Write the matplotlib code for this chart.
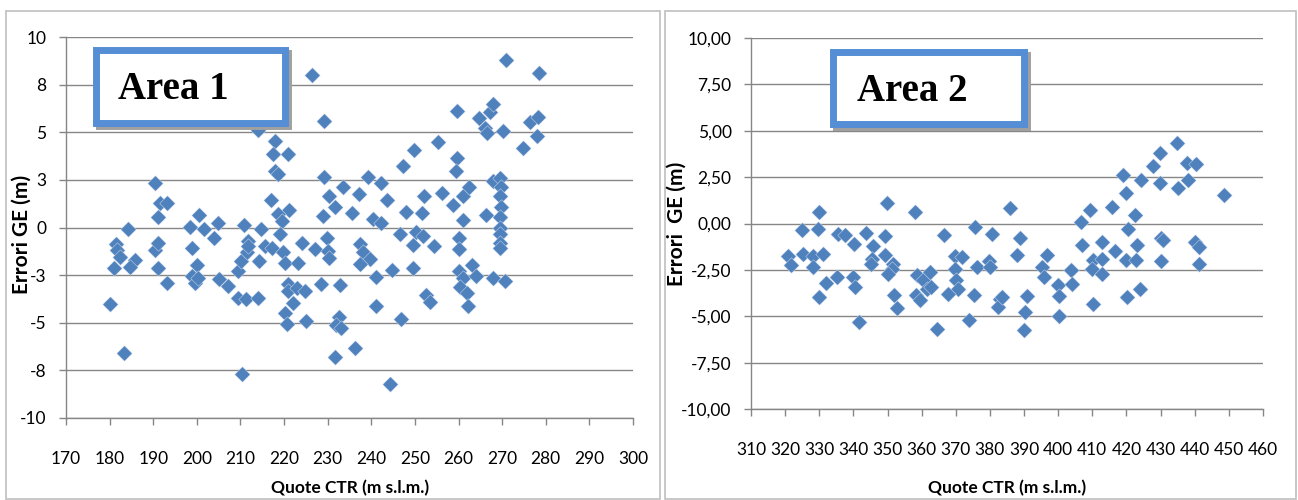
import matplotlib.pyplot as plt
from matplotlib.patches import Rectangle

plt.rcParams['font.family'] = ['Lato', 'DejaVu Sans']

# Area 1 : quote CTR vs errori GE
area1_x = [226.3, 214.1, 217.9, 217.4, 220.8, 217.9, 218.5, 190.4, 191.6, 193.1,
           191.0, 216.9, 221.1, 218.5, 219.5, 219.1, 184.3, 200.5, 198.4, 201.7,
           204.8, 204.0, 210.8, 214.6, 211.7, 181.4, 181.8, 182.4, 180.9, 185.8,
           184.7, 190.3, 191.2, 191.0, 193.1, 199.0, 200.0, 198.8, 199.6, 200.3,
           205.1, 207.2, 209.5, 210.1, 211.4, 211.8, 209.5, 211.2, 214.1, 214.3,
           215.6, 217.2, 219.8, 220.1, 223.3, 224.1, 227.0, 220.8, 221.0, 222.9,
           224.8, 222.1, 220.2, 220.6, 225.0, 228.4, 180.2, 183.2, 210.3,
           270.8, 278.5, 229.2, 259.6, 264.6, 266.0, 267.1, 267.9, 270.3, 266.5,
           276.3, 278.3, 278.0, 274.7, 255.2, 249.9, 247.2, 259.6, 259.5, 229.2,
           239.3, 242.2, 243.6, 233.6, 237.2, 230.4, 231.7, 228.9, 235.5, 240.3,
           242.3, 248.0, 252.1, 251.7, 256.2, 258.8, 261.0, 262.3, 261.0, 266.3,
           268.0, 269.4, 269.7, 269.5, 269.7, 269.5, 269.5, 269.5, 269.5, 269.5,
           229.8, 230.0, 230.2, 246.6, 250.3, 251.8, 249.5, 254.4, 260.2, 260.2,
           237.3, 238.2, 239.7, 237.4, 241.1, 244.7, 249.5, 232.8, 260.2, 261.1,
           263.0, 264.0, 268.0, 270.7, 260.4, 261.9, 262.1, 252.6, 253.5, 241.1,
           246.8, 232.5, 231.9, 233.0, 236.3, 231.7, 244.3]
area1_y = [8.0, 5.1, 4.55, 3.85, 3.85, 2.98, 2.8, 2.31, 1.31, 1.31,
           0.53, 1.44, 0.91, 0.7, 0.35, -0.32, -0.09, 0.67, 0.04, -0.09,
           0.26, -0.53, 0.14, -0.09, -0.7, -0.84, -1.19, -1.54, -2.1, -1.72,
           -2.07, -1.19, -0.79, -2.1, -2.89, -1.05, -1.96, -2.54, -2.89, -2.63,
           -2.71, -3.06, -2.28, -1.75, -1.31, -0.96, -3.68, -3.77, -3.68, -1.75,
           -0.96, -1.05, -1.31, -1.84, -1.84, -0.79, -1.14, -2.98, -3.33, -3.15,
           -3.33, -3.94, -4.47, -5.08, -4.9, -2.98, -3.99, -6.57, -7.71,
           8.81, 8.09, 5.57, 6.13, 5.74, 5.22, 6.04, 6.48, 5.08, 4.94,
           5.55, 5.81, 4.78, 4.17, 4.47, 4.06, 3.24, 3.64, 2.94, 2.63,
           2.63, 2.31, 1.45, 2.15, 1.75, 1.66, 1.1, 0.61, 0.75, 0.44,
           0.21, 0.79, 1.66, 0.74, 1.79, 1.19, 1.66, 2.1, 0.4, 0.65,
           2.45, 2.59, 2.1, 1.66, 1.09, 0.53, 0.0, -0.32, -0.79, -1.09,
           -0.53, -1.23, -1.58, -0.32, -0.26, -0.44, -0.91, -0.96, -0.53, -1.14,
           -0.88, -1.31, -1.66, -1.89, -2.59, -2.24, -2.1, -3.03, -2.28, -2.66,
           -1.96, -2.54, -2.66, -2.8, -3.12, -3.42, -4.12, -3.54, -3.89, -4.12,
           -4.82, -4.69, -5.11, -5.29, -6.3, -6.8, -8.23]

# Area 2
area2_x = [320.9, 321.6, 325.3, 324.9, 328.1, 328.3, 330.0, 329.5, 331.0, 332.0,
           330.0, 335.3, 335.6, 337.5, 340.2, 340.0, 340.5, 341.7, 343.7, 345.8,
           345.4, 345.1, 349.3, 349.3, 349.9, 351.7, 351.2, 350.2, 351.9, 352.7,
           358.0, 358.5, 360.3, 358.3, 359.5, 361.5, 362.5, 362.6, 364.4, 366.4,
           369.8, 371.7, 369.8, 370.1, 370.5, 367.8, 375.6, 376.3, 375.3, 374.0,
           380.5, 379.8, 380.0, 383.0, 382.3,
           385.9, 388.8, 387.8, 396.6, 395.2, 395.7, 383.4, 390.8, 390.3, 390.1,
           399.9, 400.2, 400.2, 403.8, 404.1, 406.7, 409.3, 407.1, 410.3, 409.8,
           412.7, 412.7, 412.9, 410.3, 415.9, 416.5, 419.1, 419.8, 420.4, 419.8,
           420.1, 422.5, 423.0, 422.7, 424.0, 424.3, 427.9, 429.8, 429.8, 430.1,
           430.8, 430.1, 434.7, 435.0, 437.6, 440.3, 437.9, 440.1, 441.3, 441.3,
           448.7]
area2_y = [-1.76, -2.25, -1.65, -0.36, -1.76, -2.37, 0.63, -0.27, -1.62, -3.2,
           -3.96, -2.91, -0.58, -0.63, -1.12, -2.88, -3.45, -5.31, -0.5, -1.22,
           -1.89, -2.16, -0.68, -1.71, 1.13, -2.16, -2.43, -2.73, -3.87, -4.55,
           0.63, -2.79, -3.06, -3.87, -4.14, -3.51, -2.61, -3.45, -5.67, -0.63,
           -1.76, -1.83, -2.43, -3.06, -3.51, -3.81, -0.18, -2.37, -3.87, -5.22,
           -0.58, -2.01, -2.34, -4.05, -4.5,
           0.81, -0.76, -1.71, -1.71, -2.34, -2.88, -3.96, -3.92, -4.77, -5.72,
           -3.33, -3.92, -5.0, -2.48, -3.24, 0.09, 0.72, -1.17, -1.98, -2.43,
           -0.99, -1.94, -2.7, -4.32, 0.9, -1.47, 2.61, 1.65, -0.32, -1.98,
           -3.96, 0.45, -1.17, -1.98, -3.51, 2.37, 3.09, 3.81, 2.19, -0.76,
           -0.9, -2.01, 4.35, 1.89, 3.24, 3.2, 2.34, -0.99, -1.29, -2.19,
           1.53]

area1_xticks = list(range(170, 301, 10))
area2_xticks = list(range(310, 461, 10))
yticks = [-10, -7.5, -5, -2.5, 0, 2.5, 5, 7.5, 10]
area1_ylabels = ["-10", "-8", "-5", "-3", "0", "3", "5", "8", "10"]
area2_ylabels = ["-10,00", "-7,50", "-5,00", "-2,50", "0,00", "2,50", "5,00", "7,50", "10,00"]

W, H = 1298, 500
grey = '#868686'
blue = '#4F81BD'

def fx(px):
    return px / W

def fy(py):
    return 1 - py / H

fig = plt.figure(figsize=(W / 100, H / 100), dpi=100)

# panel frames
for x0, x1 in [(6, 660), (665, 1296)]:
    fig.add_artist(Rectangle((fx(x0), fy(499)), (x1 - x0) / W, (499 - 11) / H,
                             transform=fig.transFigure, fill=False, ec='#BFBFBF', lw=1.2))

panels = [
    (area1_x, area1_y, area1_xticks, area1_ylabels, (66, 633, 37, 418), 350, 22, 234, "Errori GE (m)"),
    (area2_x, area2_y, area2_xticks, area2_ylabels, (751, 1263, 38, 409), 1007, 677, 224, "Errori  GE (m)"),
]

for xs, ys, xt, ylab, box, xlab_x, ylab_x, ylab_y, ytext in panels:
    left, right, top, bottom = box
    ax = fig.add_axes([fx(left), fy(bottom), (right - left) / W, (bottom - top) / H])
    ax.scatter(xs, ys, marker='D', s=62, color=blue, edgecolors='#DCE6F2', linewidths=0.3, zorder=3)
    ax.set_xlim(xt[0], xt[-1])
    ax.set_ylim(-10, 10)
    ax.set_xticks(xt)
    ax.set_yticks(yticks)
    ax.set_yticklabels(ylab)
    ax.yaxis.grid(True, color=grey, lw=1)
    ax.set_axisbelow(True)
    for s in ['top', 'right']:
        ax.spines[s].set_visible(False)
    for s in ['left', 'bottom']:
        ax.spines[s].set_color(grey)
        ax.spines[s].set_linewidth(1)
    ax.tick_params(direction='out', length=5, width=1, color=grey, labelsize=12.5, labelcolor='black')
    ax.tick_params(axis='x', pad=19)
    ax.tick_params(axis='y', pad=9)
    fig.text(fx(xlab_x), fy(488), "Quote CTR (m s.l.m.)", ha='center', va='center',
             fontsize=12.5, fontweight='bold')
    fig.text(fx(ylab_x), fy(ylab_y), ytext, ha='center', va='center', rotation=90,
             fontsize=15, fontweight='bold')

# "Area" boxes
for x0, y0, x1, y1, label, tx, ty in [(92, 47, 288, 126, "Area 1", 118, 99),
                                      (829, 49, 1027, 127, "Area 2", 857, 101)]:
    fig.add_artist(Rectangle((fx(x0 + 3.5 + 3), fy(y1 - 3.5 + 3)), (x1 - x0 - 7) / W, (y1 - y0 - 7) / H,
                             transform=fig.transFigure, fill=False, ec='#A0A0A0', lw=5))
    fig.add_artist(Rectangle((fx(x0 + 3.5), fy(y1 - 3.5)), (x1 - x0 - 7) / W, (y1 - y0 - 7) / H,
                             transform=fig.transFigure, fc='white', ec='#558ED5', lw=5))
    fig.text(fx(tx), fy(ty), label, ha='left', va='baseline', fontsize=28,
             fontweight='bold', family=['Liberation Serif', 'DejaVu Serif'], zorder=5)

plt.savefig("out.png", dpi=100)
